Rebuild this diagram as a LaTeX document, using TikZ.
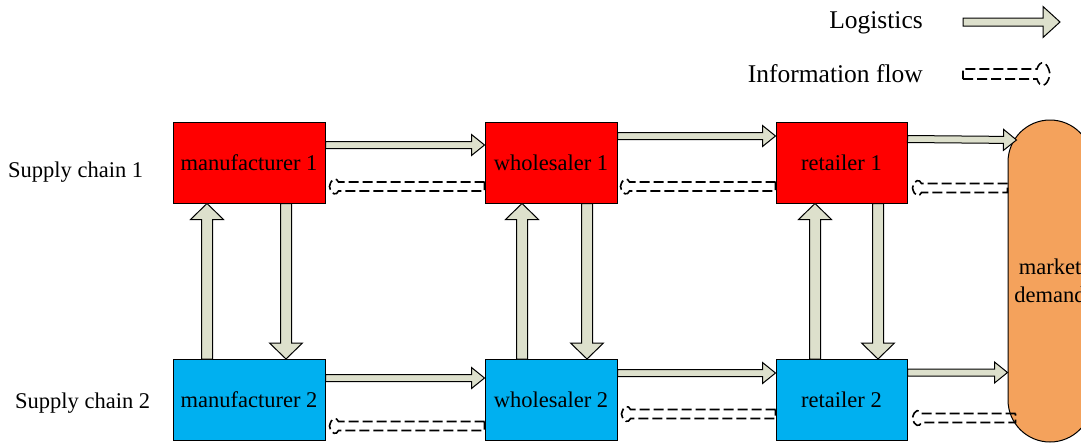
\documentclass[tikz,border=0pt]{standalone}
\usepackage{fontspec}
\setmainfont{Liberation Serif}
\usepackage{tikz}
\usetikzlibrary{calc}
\usepackage{xcolor}
\definecolor{chainred}{RGB}{255,0,0}
\definecolor{chainblue}{RGB}{0,176,240}
\definecolor{mktorange}{RGB}{244,162,92}
\definecolor{logfill}{RGB}{221,224,204}
\newcommand{\boxfont}{\fontsize{22.5}{28}\selectfont}
\newcommand{\legfont}{\fontsize{25.5}{30}\selectfont}
% block arrow: style, from, to, half shaft, half head, head length
\newcommand{\blockflow}[6]{%
  \path[#1] let \p1=#2, \p2=#3,
    \n1={atan2(\y2-\y1,\x2-\x1)}, \n2={veclen(\x2-\x1,\y2-\y1)} in
    [shift={(\p1)}, rotate=\n1]
    (0pt,-#4pt) -- ({\n2-#6pt},-#4pt) -- ({\n2-#6pt},-#5pt) -- (\n2,0pt)
    -- ({\n2-#6pt},#5pt) -- ({\n2-#6pt},#4pt) -- (0pt,#4pt) -- cycle;}
% dashed flow with a curly head: from, to, half shaft, half head, head length
\newcommand{\infoflow}[5]{%
  \draw[info] let \p1=#1, \p2=#2,
    \n1={atan2(\y2-\y1,\x2-\x1)}, \n2={veclen(\x2-\x1,\y2-\y1)} in
    [shift={(\p1)}, rotate=\n1]
    (0pt,-#3pt) -- ({\n2-#5pt},-#3pt)
    .. controls ({\n2-0.8*#5pt},{-#4pt}) and ({\n2-0.2*#5pt},{-#4pt}) .. (\n2,0pt)
    .. controls ({\n2-0.2*#5pt},{#4pt}) and ({\n2-0.8*#5pt},{#4pt}) .. ({\n2-#5pt},#3pt)
    -- (0pt,#3pt) -- cycle;}
\tikzset{
  box/.style={draw=black, line width=1pt, minimum height=81pt, inner sep=0pt, font=\boxfont},
  logistics/.style={draw=black, fill=logfill, line width=1pt, line join=miter},
  info/.style={draw=black, line width=1.6pt, dash pattern=on 10pt off 4pt},
  legtext/.style={font=\legfont, anchor=east, inner sep=0pt},
  chaintext/.style={font=\boxfont, anchor=west, inner sep=0pt}
}

\begin{document}
\begin{tikzpicture}[x=1pt, y=-1pt]
  \useasboundingbox (0,0) rectangle (1081,442);
  % Legend
  \node[legtext] (loglab) at (923,23) {Logistics};
  \node[legtext] (inflab) at (923,74) {Information flow};
  \coordinate (logA) at (963,22);
  \coordinate (logB) at (1060,22);
  \coordinate (infA) at (963,74);
  \coordinate (infB) at (1050,74);
  \blockflow{logistics}{(logA)}{(logB)}{4}{15.5}{17}
  \infoflow{(infA)}{(infB)}{5}{14}{13}
  % Chain labels
  \node[chaintext] (sc1) at (8,172) {Supply chain 1};
  \node[chaintext] (sc2) at (15,403) {Supply chain 2};
  % Chain members
  \node[box, fill=chainred, minimum width=152pt] (m1) at (249,162.5) {manufacturer 1};
  \node[box, fill=chainred, minimum width=132pt] (w1) at (551,162.5) {wholesaler 1};
  \node[box, fill=chainred, minimum width=131pt] (r1) at (841.5,162.5) {retailer 1};
  \node[box, fill=chainblue, minimum width=152pt] (m2) at (249,400) {manufacturer 2};
  \node[box, fill=chainblue, minimum width=132pt] (w2) at (551,400) {wholesaler 2};
  \node[box, fill=chainblue, minimum width=131pt] (r2) at (841.5,400) {retailer 2};
  % Market
  \node[draw=black, fill=mktorange, line width=1pt, rounded corners=42pt,
        minimum width=84pt, minimum height=322pt, font=\boxfont, align=center]
        (mk) at (1050,281) {market\\demand};
  % Logistics between chains
  \foreach \hi/\lo/\ua/\da in {m1/m2/-42/37, w1/w2/-29/36, r1/r2/-26.5/36.5} {
    \blockflow{logistics}{([xshift=\ua pt]\lo.north)}{([xshift=\ua pt]\hi.south)}{5.5}{16.5}{16}
    \blockflow{logistics}{([xshift=\da pt]\hi.south)}{([xshift=\da pt]\lo.north)}{5.5}{16.5}{16}
  }
  % Logistics along chains
  \blockflow{logistics}{([yshift=17.5pt]m1.east)}{([yshift=17.5pt]w1.west)}{3.5}{10.5}{13}
  \blockflow{logistics}{([yshift=26.5pt]w1.east)}{([yshift=26.5pt]r1.west)}{3.5}{10.5}{13}
  \blockflow{logistics}{([yshift=23.5pt]r1.east)}{([shift={(9pt,141pt)}]mk.west)}{3.5}{10.5}{13}
  \blockflow{logistics}{([yshift=22pt]m2.east)}{([yshift=22pt]w2.west)}{3.5}{10.5}{13}
  \blockflow{logistics}{([yshift=27pt]w2.east)}{([yshift=27pt]r2.west)}{3.5}{10.5}{13}
  \blockflow{logistics}{([yshift=27.5pt]r2.east)}{([yshift=-91.5pt]mk.west)}{3.5}{10.5}{13}
  % Information flow back up the chains
  \infoflow{([yshift=-24pt]w1.west)}{([shift={(4pt,-24pt)}]m1.east)}{4.5}{9}{9}
  \infoflow{([yshift=-24pt]r1.west)}{([shift={(3pt,-24pt)}]w1.east)}{4.5}{9}{9}
  \infoflow{([yshift=93pt]mk.west)}{([shift={(5pt,-25.5pt)}]r1.east)}{4.5}{9}{9}
  \infoflow{([yshift=-26pt]w2.west)}{([shift={(4pt,-26pt)}]m2.east)}{4.5}{9}{9}
  \infoflow{([yshift=-14pt]r2.west)}{([shift={(4pt,-14pt)}]w2.east)}{4.5}{9}{9}
  \infoflow{([shift={(8pt,-137pt)}]mk.west)}{([shift={(5pt,-18pt)}]r2.east)}{4.5}{9}{9}
\end{tikzpicture}
\end{document}
